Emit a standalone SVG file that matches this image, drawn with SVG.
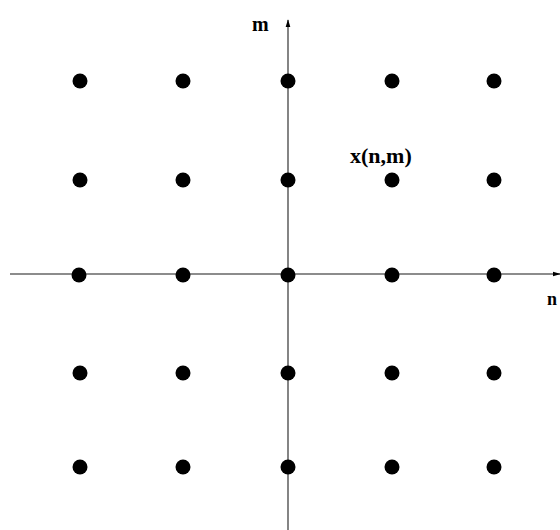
<svg xmlns="http://www.w3.org/2000/svg" width="560" height="530" viewBox="0 0 560 530">
<style>
.ax{stroke:#666;stroke-width:1.6;fill:none}
.dot{fill:#000}
.lbl{font-family:"Liberation Serif",serif;font-weight:bold;fill:#000}
</style>
<defs>
<marker id="ah" viewBox="0 0 10 10" refX="9" refY="5" markerWidth="5" markerHeight="5" orient="auto">
<path d="M0,2 L10,5 L0,8 Z" fill="#000"/>
</marker>
</defs>
<rect width="560" height="530" fill="#fff"/>
<g id="connectors">
<line class="ax" x1="10" y1="274" x2="560" y2="274" marker-end="url(#ah)"/>
<line class="ax" x1="288" y1="530" x2="288" y2="20" marker-end="url(#ah)"/>
</g>
<g id="dots">
<g id="r1"><ellipse class="dot" cx="80" cy="81" rx="7.5" ry="7.5"/><ellipse class="dot" cx="183" cy="81" rx="7.5" ry="7.5"/><ellipse class="dot" cx="288" cy="81" rx="7.5" ry="7.5"/><ellipse class="dot" cx="392" cy="81" rx="7.5" ry="7.5"/><ellipse class="dot" cx="494" cy="81" rx="7.5" ry="7.5"/></g>
<g id="r2"><ellipse class="dot" cx="80" cy="180" rx="7.5" ry="7.5"/><ellipse class="dot" cx="183" cy="180" rx="7.5" ry="7.5"/><ellipse class="dot" cx="288" cy="180" rx="7.5" ry="7.5"/><ellipse class="dot" cx="392" cy="180" rx="7.5" ry="7.5"/><ellipse class="dot" cx="494" cy="180" rx="7.5" ry="7.5"/></g>
<g id="r3"><ellipse class="dot" cx="79" cy="275" rx="7.5" ry="7.5"/><ellipse class="dot" cx="183" cy="275" rx="7.5" ry="7.5"/><ellipse class="dot" cx="288" cy="275" rx="7.5" ry="7.5"/><ellipse class="dot" cx="392" cy="275" rx="7.5" ry="7.5"/><ellipse class="dot" cx="494" cy="275" rx="7.5" ry="7.5"/></g>
<g id="r4"><ellipse class="dot" cx="80" cy="373" rx="7.5" ry="7.5"/><ellipse class="dot" cx="183" cy="373" rx="7.5" ry="7.5"/><ellipse class="dot" cx="288" cy="373" rx="7.5" ry="7.5"/><ellipse class="dot" cx="392" cy="373" rx="7.5" ry="7.5"/><ellipse class="dot" cx="494" cy="373" rx="7.5" ry="7.5"/></g>
<g id="r5"><ellipse class="dot" cx="80" cy="467" rx="7.5" ry="7.5"/><ellipse class="dot" cx="183" cy="467" rx="7.5" ry="7.5"/><ellipse class="dot" cx="288" cy="467" rx="7.5" ry="7.5"/><ellipse class="dot" cx="392" cy="467" rx="7.5" ry="7.5"/><ellipse class="dot" cx="494" cy="467" rx="7.5" ry="7.5"/></g>
</g>
<g id="labels">
<text class="lbl" x="252" y="31" font-size="20">m</text>
<text class="lbl" x="350" y="163" font-size="22">x(n,m)</text>
<text class="lbl" x="547" y="305" font-size="18">n</text>
</g>
</svg>
